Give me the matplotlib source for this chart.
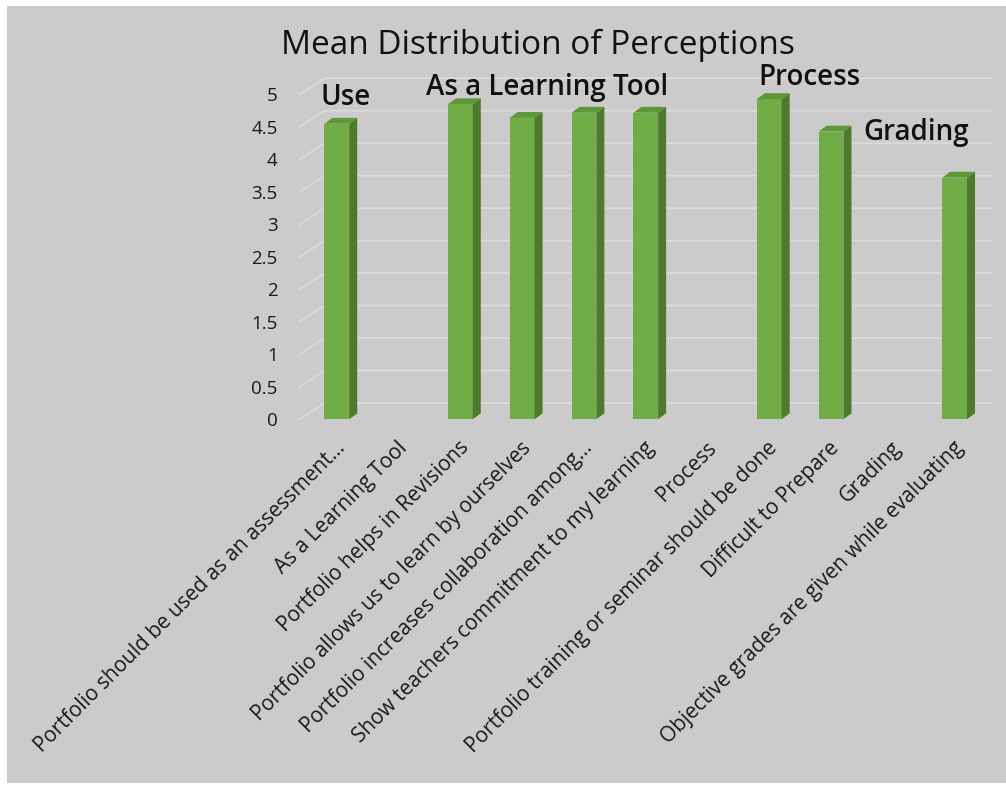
import numpy as np
import matplotlib.pyplot as plt
import matplotlib.transforms as mtransforms
from matplotlib.patches import Polygon, Rectangle

plt.rcParams['font.family'] = ['Open Sans', 'DejaVu Sans']

# chart data
categories = [
    "Portfolio should be used as an assessment...",
    "As a Learning Tool",
    "Portfolio helps in Revisions",
    "Portfolio allows us to learn by ourselves",
    "Portfolio increases collaboration among...",
    "Show teachers commitment to my learning",
    "Process",
    "Portfolio training or seminar should be done",
    "Difficult to Prepare",
    "Grading",
    "Objective grades are given while evaluating",
]
means = [4.55, np.nan, 4.85, 4.64, 4.72, 4.72, np.nan, 4.93, 4.43, np.nan, 3.72]
y_ticks = [0, 0.5, 1, 1.5, 2, 2.5, 3, 3.5, 4, 4.5, 5]

# group headers written above the bars
sections = ["Use", "As a Learning Tool", "Process", "Grading"]
section_x = [0.14, 3.4, 7.65, 9.38]
section_y = [4.95, 5.1, 5.26, 4.42]

BG = '#cbcbcb'
FRONT = '#70ad47'
SIDE = '#4d7a2c'
TOP = '#5e9638'

fig = plt.figure(figsize=(10.06, 7.85), dpi=100, facecolor='white')
fig.patches.append(Rectangle((7 / 1006, 2 / 785), 1, 1 - 8 / 785, transform=fig.transFigure,
                             facecolor=BG, edgecolor='none', zorder=-10))

ax = fig.add_axes([0.298, 0.466, 0.697, 0.455])
ax.set_facecolor('none')
ax.set_xlim(-0.6, 10.75)
ax.set_ylim(0, 5.5)
for s in ax.spines.values():
    s.set_visible(False)

# back wall grid with a little perspective
wx, wy = 0.4, 0.25
for v in y_ticks:
    ax.plot([-0.6, -0.6 + wx, 10.6], [v, v + wy, v + wy], color='#dadada',
            lw=1.4, zorder=1, clip_on=False)

x = np.arange(len(categories))
w, dx, dy = 0.4, 0.13, 0.09
ax.bar(x, means, width=w, color=FRONT, zorder=3)
for xi, m in zip(x, means):
    if np.isnan(m):
        continue
    ax.add_patch(Polygon([(xi + w / 2, 0), (xi + w / 2 + dx, dy), (xi + w / 2 + dx, m + dy),
                          (xi + w / 2, m)], closed=True, facecolor=SIDE, edgecolor='none', zorder=3))
    ax.add_patch(Polygon([(xi - w / 2, m), (xi - w / 2 + dx, m + dy), (xi + w / 2 + dx, m + dy),
                          (xi + w / 2, m)], closed=True, facecolor=TOP, edgecolor='none', zorder=3))

ax.set_yticks(y_ticks, [f'{v:g}' for v in y_ticks], fontsize=13.5, color='#1a1a1a')
ax.set_xticks(x, categories, rotation=45, ha='right', rotation_mode='anchor',
              fontsize=15, color='#1a1a1a')
ax.tick_params(axis='both', length=0)
ax.tick_params(axis='y', pad=16)
ax.tick_params(axis='x', pad=13)
shift = mtransforms.ScaledTranslation(-0.02, 0, fig.dpi_scale_trans)
for lbl in ax.get_xticklabels():
    lbl.set_transform(lbl.get_transform() + shift)

for name, sx, sy in zip(sections, section_x, section_y):
    ax.text(sx, sy, name, ha='center', va='center', fontsize=20, fontweight='semibold',
            color='#111111', zorder=5)

fig.text(0.535, 0.942, "Mean Distribution of Perceptions", ha='center', va='center',
         fontsize=24, color='#111111')

fig.savefig('out.png', dpi=100, facecolor=fig.get_facecolor())
